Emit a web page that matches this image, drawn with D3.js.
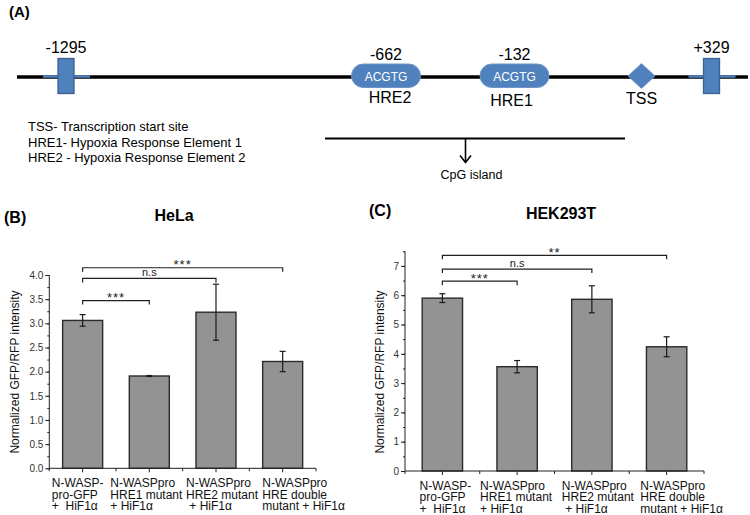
<!DOCTYPE html>
<html><head><meta charset="utf-8">
<script src="https://cdn.jsdelivr.net/npm/d3@7"></script>
<style>
body{margin:0;background:#fff}
svg{display:block}
text{font-family:"Liberation Sans",Arial,Helvetica,sans-serif}
</style>
</head><body>
<svg id="chart" width="750" height="515"></svg>
<script>
// ---------- DATA ----------
const categoryKeys = ["wt", "hre1", "hre2", "double"];
const categoryLines = [
  ["N-WASP-", "pro-GFP", "+  HiF1α"],
  ["N-WASPpro", "HRE1 mutant", "+ HiF1α"],
  ["N-WASPpro", "HRE2 mutant", " + HiF1α"],
  ["N-WASPpro", "HRE double", "mutant + HiF1α"]
];
const helaMean = [3.06, 1.91, 3.23, 2.21];
const helaErr  = [0.12, 0.01, 0.58, 0.21];
const hekMean  = [5.90, 3.56, 5.86, 4.24];
const hekErr   = [0.15, 0.21, 0.46, 0.34];
const helaTicks = [0, 0.5, 1.0, 1.5, 2.0, 2.5, 3.0, 3.5, 4.0];
const helaMinor = d3.range(0, 4.001, 0.25);
const hekTicks  = [0, 1, 2, 3, 4, 5, 6, 7];
const hekMinor  = d3.range(0, 7.51, 0.5);
// comparisons: from index, to index, label, bracket level (value units)
const helaSigFrom = [0, 0, 0], helaSigTo = [1, 2, 3];
const helaSigLabel = ["***", "n.s", "***"];
const helaSigLevel = [3.47, 3.93, 4.15];
const hekSigFrom = [0, 0, 0], hekSigTo = [1, 2, 3];
const hekSigLabel = ["***", "n.s", "**"];
const hekSigLevel = [6.48, 6.89, 7.36];
const yLabel = "Normalized GFP/RFP intensity";

// promoter diagram
const featureIds   = ["p1295", "hre2", "hre1", "tss", "p329"];
const featureType  = ["box", "pill", "pill", "diamond", "box"];
const featureTop   = ["-1295", "-662", "-132", "", "+329"];
const featureInner = ["", "ACGTG", "ACGTG", "", ""];
const featureBelow = ["", "HRE2", "HRE1", "TSS", ""];
const legendLines  = ["TSS- Transcription start site", "HRE1- Hypoxia Response Element 1", "HRE2 - Hypoxia Response Element 2"];

// ---------- DRAW ----------
const svg = d3.select("#chart");
const BLUE = "#4f81bd", BLUE_DK = "#3a6293";

// Panel A
svg.append("text").attr("x", 9).attr("y", 17).attr("font-size", 15).attr("font-weight", "bold").text("(A)");
const fx = d3.scaleOrdinal().domain(featureIds).range([66, 386, 514.5, 641.5, 711.5]);
const lineY = 77;
svg.append("line").attr("x1", 17).attr("x2", 748).attr("y1", lineY).attr("y2", lineY)
  .attr("stroke", "#000").attr("stroke-width", 3.3);
const feats = featureIds.map((id, i) => ({id, type: featureType[i], top: featureTop[i], inner: featureInner[i], below: featureBelow[i]}));
const fg = svg.append("g").selectAll("g").data(feats).join("g").attr("transform", d => `translate(${fx(d.id)},0)`);
fg.filter(d => d.type === "box").each(function(d) {
  const g = d3.select(this);
  g.append("line").attr("x1", -23).attr("x2", 24).attr("y1", lineY - 0.5).attr("y2", lineY - 0.5)
    .attr("stroke", BLUE).attr("stroke-width", 2.5);
  g.append("rect").attr("x", -8).attr("y", 58.5).attr("width", 16).attr("height", 35)
    .attr("fill", BLUE).attr("stroke", BLUE_DK).attr("stroke-width", 1.3);
  g.append("text").attr("text-anchor", "middle").attr("y", 53).attr("font-size", 16).text(d.top);
});
fg.filter(d => d.type === "pill").each(function(d) {
  const g = d3.select(this);
  g.append("rect").attr("x", -34.5).attr("y", 64).attr("width", 69).attr("height", 23.5).attr("rx", 11.75)
    .attr("fill", BLUE).attr("stroke", "#6f96c8").attr("stroke-width", 1);
  g.append("text").attr("text-anchor", "middle").attr("y", 80.5).attr("font-size", 12).attr("fill", "#fff").text(d.inner);
  g.append("text").attr("text-anchor", "middle").attr("y", 60).attr("font-size", 16).text(d.top);
  g.append("text").attr("text-anchor", "middle").attr("x", d.id === "hre2" ? 4 : -3).attr("y", d.id === "hre2" ? 103 : 106).attr("font-size", 16).text(d.below);
});
fg.filter(d => d.type === "diamond").each(function(d) {
  const g = d3.select(this);
  g.append("path").attr("d", "M0,63.5 L13.5,76 L0,88.5 L-13.5,76 Z").attr("fill", BLUE).attr("stroke", "#6f96c8").attr("stroke-width", 0.8);
  g.append("text").attr("text-anchor", "middle").attr("y", 104).attr("font-size", 16).text(d.below);
});
svg.append("g").selectAll("text").data(legendLines).join("text")
  .attr("x", 28).attr("y", (d, i) => 131 + i * 15.6).attr("font-size", 13).text(d => d);
// CpG island
svg.append("line").attr("x1", 325).attr("x2", 625).attr("y1", 138.5).attr("y2", 138.5).attr("stroke", "#000").attr("stroke-width", 2);
svg.append("line").attr("x1", 465.5).attr("x2", 465.5).attr("y1", 138.5).attr("y2", 162).attr("stroke", "#000").attr("stroke-width", 1.6);
svg.append("path").attr("d", "M460,155.5 L465.5,162.5 L471,155.5").attr("fill", "none").attr("stroke", "#000").attr("stroke-width", 1.6);
svg.append("text").attr("x", 471.5).attr("y", 179).attr("text-anchor", "middle").attr("font-size", 12.5).text("CpG island");

// Bar panels
function panel(cfg) {
  const g = svg.append("g");
  const n = categoryKeys.length;
  const x = d3.scaleBand().domain(categoryKeys).range([cfg.x0, cfg.x1]).paddingInner(cfg.pad).paddingOuter(cfg.pad / 2);
  const y = d3.scaleLinear().domain(cfg.domain).range([cfg.y0, cfg.y1]);
  const data = categoryKeys.map((k, i) => ({k, v: cfg.mean[i], e: cfg.err[i], lines: categoryLines[i]}));

  // title & panel letter
  g.append("text").attr("x", cfg.letterX).attr("y", cfg.letterY).attr("font-size", 16).attr("font-weight", "bold").text(cfg.letter);
  g.append("text").attr("x", cfg.titleX).attr("y", cfg.titleY).attr("text-anchor", "middle").attr("font-size", 16).attr("font-weight", "bold").text(cfg.title);

  // bars
  g.append("g").selectAll("rect").data(data).join("rect")
    .attr("x", d => x(d.k)).attr("width", x.bandwidth())
    .attr("y", d => y(d.v)).attr("height", d => y(0) - y(d.v))
    .attr("fill", "#939393").attr("stroke", "#2b2b2b").attr("stroke-width", 1.4);

  // error bars
  const eb = g.append("g").attr("stroke", "#1a1a1a").attr("stroke-width", 1.2);
  data.forEach(d => {
    const cx = x(d.k) + x.bandwidth() / 2;
    eb.append("line").attr("x1", cx).attr("x2", cx).attr("y1", y(d.v + d.e)).attr("y2", y(d.v - d.e));
    eb.append("line").attr("x1", cx - 3).attr("x2", cx + 3).attr("y1", y(d.v + d.e)).attr("y2", y(d.v + d.e));
    eb.append("line").attr("x1", cx - 3).attr("x2", cx + 3).attr("y1", y(d.v - d.e)).attr("y2", y(d.v - d.e));
  });

  // y axis
  const ya = g.append("g").attr("transform", `translate(${cfg.x0},0)`)
    .call(d3.axisLeft(y).tickValues(cfg.ticks).tickSize(4).tickPadding(2).tickFormat(cfg.fmt));
  ya.select(".domain").attr("stroke", "#222").attr("d", `M0,${cfg.y0}V${cfg.y1}`);
  ya.selectAll(".tick line").attr("stroke", "#222");
  ya.selectAll(".tick text").attr("font-size", 10).attr("fill", "#333").attr("font-family", "Liberation Sans, Arial, sans-serif");
  const ym = g.append("g").attr("transform", `translate(${cfg.x0},0)`)
    .call(d3.axisLeft(y).tickValues(cfg.minor).tickSize(2).tickFormat(""));
  ym.select(".domain").remove();
  ym.selectAll(".tick line").attr("stroke", "#222");

  // x axis
  const xa = g.append("g").attr("transform", `translate(0,${cfg.y0})`)
    .call(d3.axisBottom(x).tickSize(4).tickFormat(""));
  xa.select(".domain").attr("stroke", "#222").attr("d", `M${cfg.x0},0H${cfg.x1}`);
  xa.selectAll(".tick line").attr("stroke", "#222");
  const step = x.step();
  g.append("g").selectAll("line").data(d3.range(n + 1)).join("line")
    .attr("x1", i => cfg.x0 + i * step).attr("x2", i => cfg.x0 + i * step)
    .attr("y1", cfg.y0).attr("y2", cfg.y0 + 3).attr("stroke", "#222");

  // category labels (left aligned blocks near tick)
  data.forEach((d, i) => {
    const cx = x(d.k) + x.bandwidth() / 2;
    const t = g.append("text").attr("font-size", 12).attr("fill", "#111").style("white-space", "pre");
    d.lines.forEach((ln, j) => t.append("tspan").attr("y", cfg.y0 + 18.5 + j * 11.8).text(ln));
    let w = 0; t.selectAll("tspan").each(function() { w = Math.max(w, this.getComputedTextLength()); });
    t.selectAll("tspan").attr("x", cx - w / 2 + cfg.labShift[i]);
  });

  // y label
  g.append("text").attr("transform", `translate(${cfg.ylabX},${cfg.ylabY}) rotate(-90)`)
    .attr("text-anchor", "middle").attr("font-size", 12).attr("fill", "#111").text(yLabel);

  // significance brackets
  const sg = g.append("g");
  cfg.sigFrom.forEach((a, i) => {
    const xa1 = x(categoryKeys[a]) + x.bandwidth() / 2;
    const xb1 = x(categoryKeys[cfg.sigTo[i]]) + x.bandwidth() / 2;
    const yy = y(cfg.sigLevel[i]);
    sg.append("path").attr("d", `M${xa1},${yy + 4}V${yy}H${xb1}V${yy + 4}`)
      .attr("fill", "none").attr("stroke", "#222").attr("stroke-width", 1.2);
    const lab = cfg.sigLabel[i];
    const isStar = lab.indexOf("*") >= 0;
    sg.append("text").attr("x", (xa1 + xb1) / 2).attr("y", isStar ? yy + 1.5 : yy - 2)
      .attr("text-anchor", "middle").attr("font-size", isStar ? 13 : 11)
      .attr("letter-spacing", isStar ? 1 : 0).attr("fill", "#222").text(lab);
  });
}

panel({
  x0: 49.3, x1: 316, y0: 468.3, y1: 275, domain: [0, 4.0], pad: 0.4,
  mean: helaMean, err: helaErr, ticks: helaTicks, minor: helaMinor, fmt: d3.format(".1f"),
  letter: "(B)", letterX: 4, letterY: 223, title: "HeLa", titleX: 174, titleY: 221,
  ylabX: 19, ylabY: 372, labShift: [-5, -3, 6, 21],
  sigFrom: helaSigFrom, sigTo: helaSigTo, sigLabel: helaSigLabel, sigLevel: helaSigLevel
});
panel({
  x0: 405, x1: 704, y0: 471, y1: 251.25, domain: [0, 7.5], pad: 0.46,
  mean: hekMean, err: hekErr, ticks: hekTicks, minor: hekMinor, fmt: d3.format("d"),
  letter: "(C)", letterX: 369, letterY: 216, title: "HEK293T", titleX: 561, titleY: 219,
  ylabX: 384, ylabY: 372, labShift: [3, -1, 6, 15],
  sigFrom: hekSigFrom, sigTo: hekSigTo, sigLabel: hekSigLabel, sigLevel: hekSigLevel
});
</script>
</body></html>
